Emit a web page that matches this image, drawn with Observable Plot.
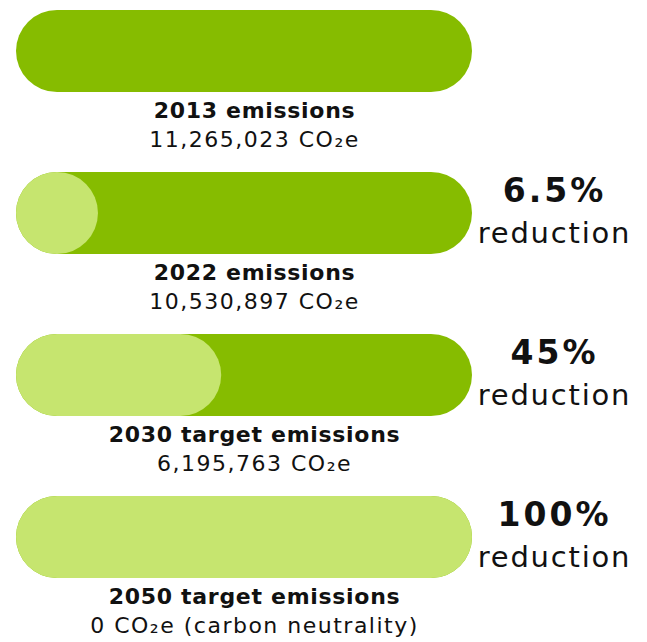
<!DOCTYPE html>
<html>
<head>
<meta charset="utf-8">
<script src="https://cdn.jsdelivr.net/npm/d3@7"></script>
<script src="https://cdn.jsdelivr.net/npm/@observablehq/plot@0.6"></script>
<style>
  html, body { margin: 0; padding: 0; background: #fff; }
  svg { display: block; }
</style>
</head>
<body>
<div id="chart"></div>
<script>
// ---- data ----
const years = ["2013", "2022", "2030", "2050"];
const titles = ["2013 emissions", "2022 emissions", "2030 target emissions", "2050 target emissions"];
const valueLabels = ["11,265,023 CO₂e", "10,530,897 CO₂e", "6,195,763 CO₂e", "0 CO₂e (carbon neutrality)"];
const emissions = [11265023, 10530897, 6195763, 0];
const reductionPct = [0, 6.5, 45, 100];
const reductionLabels = ["", "6.5%", "45%", "100%"];

const rows = years.map((y, i) => ({
  year: y, title: titles[i], value: valueLabels[i], emissions: emissions[i],
  reduction: reductionPct[i], reductionLabel: reductionLabels[i]
}));

const W = 647, H = 642;
const xRange = [16, 472];
const yRange = [10, 578];
const padInner = 0.494;
const step = (yRange[1] - yRange[0]) / (years.length - padInner);
const bandwidth = step * (1 - padInner);
const radius = bandwidth / 2;
// minimum width of the reduction pill = a full circle, in percent units
const minPct = bandwidth / (xRange[1] - xRange[0]) * 100;

const dark = "#86bc00", light = "#c6e56f", ink = "#111111";
const font = "'DejaVu Sans', sans-serif";

const chart = Plot.plot({
  width: W, height: H,
  marginTop: 0, marginRight: 0, marginBottom: 0, marginLeft: 0,
  x: {domain: [0, 100], range: xRange, axis: null},
  y: {type: "band", domain: years, range: yRange, paddingInner: padInner, paddingOuter: 0, axis: null},
  style: {fontFamily: font, background: "transparent"},
  marks: [
    Plot.barX(rows, {x1: 0, x2: 100, y: "year", fill: dark, rx: radius, ry: radius}),
    Plot.barX(rows.filter(d => d.reduction > 0), {
      x1: 0, x2: d => Math.max(d.reduction, minPct), y: "year", fill: light, rx: radius, ry: radius
    }),
    Plot.text(rows, {x: 50, y: "year", text: "title", dx: 10, dy: 59, fontSize: 22, fontWeight: 700, fill: ink, textAnchor: "middle", className: "lbl-bold"}),
    Plot.text(rows, {x: 50, y: "year", text: "value", dx: 10, dy: 88, fontSize: 22, fontWeight: 400, fill: ink, textAnchor: "middle", className: "lbl-reg"}),
    Plot.text(rows.filter(d => d.reductionLabel), {x: 100, y: "year", text: "reductionLabel", dx: 82, dy: -22, fontSize: 33, fontWeight: 700, fill: ink, textAnchor: "middle", className: "pct"}),
    Plot.text(rows.filter(d => d.reductionLabel), {x: 100, y: "year", text: () => "reduction", dx: 82, dy: 20, fontSize: 29, fontWeight: 400, fill: ink, textAnchor: "middle", className: "red"})
  ]
});
document.getElementById("chart").appendChild(chart);
// widen letter spacing to approximate the geometric typeface of the original
const style = document.createElement("style");
style.textContent = `
  .lbl-bold text { letter-spacing: 0.7px; }
  .lbl-reg text { letter-spacing: 1.5px; }
  .pct text { letter-spacing: 3px; }
  .red text { letter-spacing: 1.8px; }
`;
document.head.appendChild(style);
</script>
</body>
</html>
